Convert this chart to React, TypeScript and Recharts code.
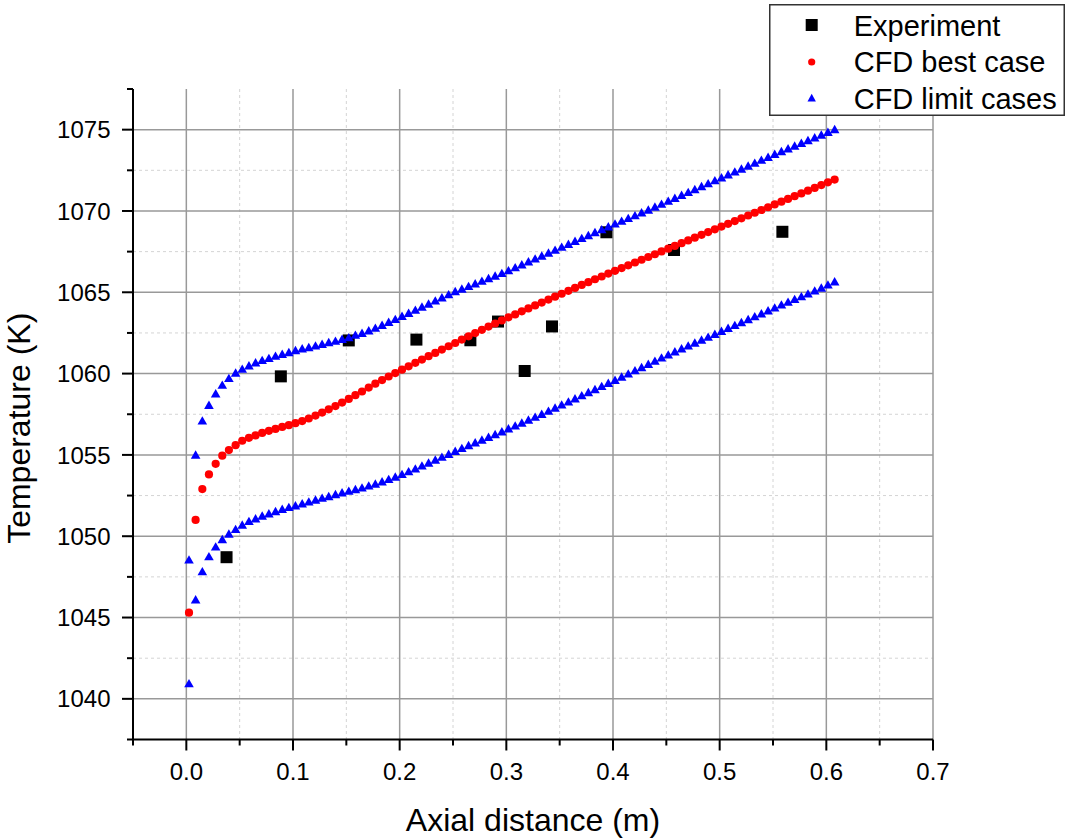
import React from 'react';
import { ScatterChart, Scatter, XAxis, YAxis, CartesianGrid, Legend } from 'recharts';

const FONT = '"Liberation Sans", Arial, Helvetica, sans-serif';

// Axis ticks (major carry labels, minor are unlabeled)
const xTicks = [-0.05, 0, 0.05, 0.1, 0.15, 0.2, 0.25, 0.3, 0.35, 0.4, 0.45, 0.5, 0.55, 0.6, 0.65, 0.7];
const xMajorTicks = [0, 0.1, 0.2, 0.3, 0.4, 0.5, 0.6, 0.7];
const xMinorGrid = [0.05, 0.15, 0.25, 0.35, 0.45, 0.55, 0.65];
const yTicks = [1037.5, 1040, 1042.5, 1045, 1047.5, 1050, 1052.5, 1055, 1057.5, 1060, 1062.5, 1065, 1067.5, 1070, 1072.5, 1075, 1077.5];
const yMajorTicks = [1040, 1045, 1050, 1055, 1060, 1065, 1070, 1075];
const yMinorGrid = [1042.5, 1047.5, 1052.5, 1057.5, 1062.5, 1067.5, 1072.5];

// Experiment
const expDistance = [0.0377, 0.0886, 0.1523, 0.2157, 0.2663, 0.2922, 0.3172, 0.3428, 0.3938, 0.4572, 0.5588];
const expTemperature = [1048.71, 1059.83, 1062.04, 1062.09, 1062.05, 1063.2, 1060.16, 1062.9, 1068.69, 1067.6, 1068.72];

// CFD axial stations
const cfdDistance = [
  0.0025, 0.0087, 0.0150, 0.0212, 0.0275, 0.0337, 0.0399, 0.0462, 0.0524, 0.0587,
  0.0649, 0.0711, 0.0774, 0.0836, 0.0899, 0.0961, 0.1023, 0.1086, 0.1148, 0.1211,
  0.1273, 0.1335, 0.1398, 0.1460, 0.1523, 0.1585, 0.1647, 0.1710, 0.1772, 0.1835,
  0.1897, 0.1959, 0.2022, 0.2084, 0.2147, 0.2209, 0.2271, 0.2334, 0.2396, 0.2459,
  0.2521, 0.2583, 0.2646, 0.2708, 0.2771, 0.2833, 0.2895, 0.2958, 0.3020, 0.3083,
  0.3145, 0.3207, 0.3270, 0.3332, 0.3395, 0.3457, 0.3519, 0.3582, 0.3644, 0.3707,
  0.3769, 0.3831, 0.3894, 0.3956, 0.4019, 0.4081, 0.4143, 0.4206, 0.4268, 0.4331,
  0.4393, 0.4455, 0.4518, 0.4580, 0.4643, 0.4705, 0.4767, 0.4830, 0.4892, 0.4955,
  0.5017, 0.5079, 0.5142, 0.5204, 0.5267, 0.5329, 0.5391, 0.5454, 0.5516, 0.5579,
  0.5641, 0.5703, 0.5766, 0.5828, 0.5891, 0.5953, 0.6015, 0.6078,
];

const cfdBest = [
  1045.3, 1051.0, 1052.9, 1053.8, 1054.45, 1054.95, 1055.3, 1055.6, 1055.87, 1056.05,
  1056.2, 1056.35, 1056.48, 1056.6, 1056.72, 1056.83, 1056.95, 1057.08, 1057.24, 1057.42,
  1057.6, 1057.8, 1058.0, 1058.22, 1058.44, 1058.67, 1058.9, 1059.14, 1059.38, 1059.6,
  1059.82, 1060.03, 1060.24, 1060.45, 1060.66, 1060.86, 1061.07, 1061.27, 1061.48, 1061.68,
  1061.88, 1062.09, 1062.29, 1062.49, 1062.69, 1062.89, 1063.08, 1063.27, 1063.46, 1063.64,
  1063.83, 1064.01, 1064.19, 1064.37, 1064.55, 1064.73, 1064.91, 1065.09, 1065.27, 1065.45,
  1065.62, 1065.8, 1065.97, 1066.15, 1066.32, 1066.49, 1066.66, 1066.83, 1067.0, 1067.17,
  1067.34, 1067.51, 1067.68, 1067.85, 1068.02, 1068.19, 1068.36, 1068.53, 1068.7, 1068.87,
  1069.04, 1069.21, 1069.38, 1069.55, 1069.72, 1069.89, 1070.06, 1070.23, 1070.4, 1070.57,
  1070.74, 1070.91, 1071.08, 1071.25, 1071.42, 1071.59, 1071.76, 1071.93,
];

const cfdUpper = [
  1048.55, 1055.0, 1057.1, 1058.06, 1058.77, 1059.3, 1059.71, 1060.04, 1060.28, 1060.49,
  1060.67, 1060.82, 1060.94, 1061.08, 1061.2, 1061.3, 1061.43, 1061.53, 1061.61, 1061.71,
  1061.81, 1061.92, 1062.0, 1062.12, 1062.22, 1062.37, 1062.49, 1062.64, 1062.8, 1062.98,
  1063.16, 1063.34, 1063.53, 1063.72, 1063.91, 1064.1, 1064.29, 1064.48, 1064.67, 1064.86,
  1065.05, 1065.21, 1065.37, 1065.53, 1065.69, 1065.85, 1066.01, 1066.17, 1066.34, 1066.52,
  1066.7, 1066.88, 1067.06, 1067.24, 1067.42, 1067.6, 1067.78, 1067.96, 1068.14, 1068.32,
  1068.5, 1068.68, 1068.86, 1069.04, 1069.21, 1069.38, 1069.55, 1069.72, 1069.9, 1070.07,
  1070.25, 1070.43, 1070.61, 1070.79, 1070.97, 1071.15, 1071.33, 1071.51, 1071.69, 1071.87,
  1072.05, 1072.23, 1072.41, 1072.59, 1072.77, 1072.95, 1073.13, 1073.31, 1073.49, 1073.66,
  1073.83, 1074.0, 1074.17, 1074.34, 1074.51, 1074.68, 1074.85, 1075.02,
];

const cfdLower = [
  1040.94, 1046.1, 1047.83, 1048.75, 1049.35, 1049.8, 1050.14, 1050.43, 1050.7, 1050.92,
  1051.08, 1051.25, 1051.39, 1051.53, 1051.66, 1051.78, 1051.88, 1052.0, 1052.12, 1052.23,
  1052.35, 1052.45, 1052.57, 1052.68, 1052.78, 1052.88, 1052.98, 1053.1, 1053.22, 1053.36,
  1053.5, 1053.65, 1053.81, 1053.98, 1054.15, 1054.33, 1054.51, 1054.69, 1054.87, 1055.05,
  1055.23, 1055.41, 1055.58, 1055.75, 1055.92, 1056.09, 1056.26, 1056.43, 1056.61, 1056.79,
  1056.97, 1057.15, 1057.33, 1057.51, 1057.7, 1057.89, 1058.08, 1058.27, 1058.46, 1058.65,
  1058.84, 1059.03, 1059.22, 1059.41, 1059.6, 1059.8, 1059.99, 1060.19, 1060.38, 1060.58,
  1060.77, 1060.97, 1061.16, 1061.35, 1061.53, 1061.71, 1061.89, 1062.07, 1062.25, 1062.43,
  1062.61, 1062.79, 1062.97, 1063.15, 1063.33, 1063.51, 1063.69, 1063.87, 1064.05, 1064.23,
  1064.4, 1064.57, 1064.74, 1064.91, 1065.09, 1065.27, 1065.46, 1065.65,
];

const legendLabels = ['Experiment', 'CFD best case', 'CFD limit cases'];

const expData = expDistance.map((x, i) => ({ x, y: expTemperature[i] }));
const bestData = cfdDistance.map((x, i) => ({ x, y: cfdBest[i] }));
const upperData = cfdDistance.map((x, i) => ({ x, y: cfdUpper[i] }));
const lowerData = cfdDistance.map((x, i) => ({ x, y: cfdLower[i] }));

const isIn = (arr: number[], v: number) => arr.some((m) => Math.abs(m - v) < 1e-6);

const XTick = (props: any) => {
  const { x, y, payload } = props;
  const v = payload.value as number;
  const major = isIn(xMajorTicks, v);
  return (
    <g>
      <line x1={x} y1={y} x2={x} y2={y + (major ? 11 : 6)} stroke="#000" strokeWidth={2} />
      {major && (
        <text x={x} y={y + 40.5} textAnchor="middle" fontSize={24} fontFamily={FONT} fill="#000">
          {v.toFixed(1)}
        </text>
      )}
    </g>
  );
};

const YTick = (props: any) => {
  const { x, y, payload } = props;
  const v = payload.value as number;
  const major = isIn(yMajorTicks, v);
  return (
    <g>
      <line x1={x} y1={y} x2={x - (major ? 11 : 6)} y2={y} stroke="#000" strokeWidth={2} />
      {major && (
        <text x={x - 22.5} y={y + 8.6} textAnchor="end" fontSize={24} fontFamily={FONT} fill="#000">
          {String(v)}
        </text>
      )}
    </g>
  );
};

const YTitle = (props: any) => {
  const vb = props.viewBox;
  const cx = vb.x + 30;
  const cy = vb.y + vb.height / 2 + 14;
  return (
    <text
      x={cx}
      y={cy}
      transform={`rotate(-90 ${cx} ${cy})`}
      textAnchor="middle"
      fontSize={32}
      fontFamily={FONT}
      fill="#000"
    >
      Temperature (K)
    </text>
  );
};

const XTitle = (props: any) => {
  const vb = props.viewBox;
  const cx = vb.x + vb.width / 2;
  const cy = vb.y + 91;
  return (
    <text x={cx} y={cy} textAnchor="middle" fontSize={32} fontFamily={FONT} fill="#000">
      Axial distance (m)
    </text>
  );
};

const SquareShape = (props: any) => {
  const { cx, cy } = props;
  return <rect x={cx - 6} y={cy - 6} width={12} height={12} fill="#000" />;
};

const CircleShape = (props: any) => {
  const { cx, cy } = props;
  return <circle cx={cx} cy={cy} r={4.1} fill="#ff0000" />;
};

const TriShape = (props: any) => {
  const { cx, cy } = props;
  const pts = `${cx},${cy - 4.6} ${cx + 4.8},${cy + 3.8} ${cx - 4.8},${cy + 3.8}`;
  return <polygon points={pts} fill="#0000ff" />;
};

const LegendBox = () => (
  <svg width={296} height={112} style={{ display: 'block' }}>
    <rect x={0.75} y={0.75} width={294.5} height={110.5} fill="#fff" stroke="#333" strokeWidth={1.5} />
    <rect x={36.7} y={15} width={12} height={12} fill="#000" />
    <circle cx={42.7} cy={58} r={3.6} fill="#ff0000" />
    <polygon points="42.7,89.8 46.9,97.6 38.5,97.6" fill="#0000ff" />
    <text x={84.7} y={31.8} fontSize={29} fontFamily={FONT} fill="#000">{legendLabels[0]}</text>
    <text x={84.7} y={68.4} fontSize={29} fontFamily={FONT} fill="#000">{legendLabels[1]}</text>
    <text x={84.7} y={105} fontSize={29} fontFamily={FONT} fill="#000">{legendLabels[2]}</text>
  </svg>
);

export default function App() {
  return (
    <div style={{ position: 'absolute', left: 0, top: 0, width: 1066, height: 840, background: '#fff' }}>
      <ScatterChart width={1066} height={840} margin={{ top: 89, right: 133, bottom: 0, left: 0 }}>
        <CartesianGrid
          stroke="#d4d4d4"
          strokeDasharray="3 3"
          strokeWidth={1}
          horizontalValues={yMinorGrid}
          verticalValues={xMinorGrid}
        />
        <CartesianGrid
          stroke="#999999"
          strokeWidth={1.5}
          horizontalValues={yMajorTicks}
          verticalValues={xMajorTicks}
        />
        <XAxis
          type="number"
          dataKey="x"
          domain={[-0.05, 0.7]}
          ticks={xTicks}
          interval={0}
          height={100.5}
          tickSize={0}
          tickMargin={0}
          tickLine={false}
          tick={<XTick />}
          axisLine={{ stroke: '#000', strokeWidth: 2 }}
          label={<XTitle />}
        />
        <YAxis
          type="number"
          dataKey="y"
          domain={[1037.5, 1077.5]}
          ticks={yTicks}
          interval={0}
          width={133}
          tickSize={0}
          tickMargin={0}
          tickLine={false}
          tick={<YTick />}
          axisLine={{ stroke: '#000', strokeWidth: 2 }}
          label={<YTitle />}
        />
        <Scatter data={expData} shape={SquareShape} isAnimationActive={false} />
        <Scatter data={bestData} shape={CircleShape} isAnimationActive={false} />
        <Scatter data={upperData} shape={TriShape} isAnimationActive={false} />
        <Scatter data={lowerData} shape={TriShape} isAnimationActive={false} />
        <Legend
          layout="vertical"
          align="center"
          verticalAlign="middle"
          wrapperStyle={{ position: 'absolute', left: 769, top: 4, width: 296, height: 112 }}
          content={() => <LegendBox />}
        />
      </ScatterChart>
    </div>
  );
}
